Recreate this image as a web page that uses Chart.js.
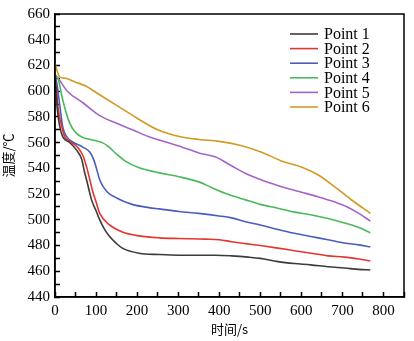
<!DOCTYPE html>
<html>
<head>
<meta charset="utf-8">
<script src="https://cdn.jsdelivr.net/npm/chart.js@4"></script>
<style>
html, body { margin: 0; padding: 0; background: #fff; }
</style>
</head>
<body>
<canvas id="chartTemp" width="414" height="341"></canvas>
<script>
const nombres = ["Point 1", "Point 2", "Point 3", "Point 4", "Point 5", "Point 6"];
const colores = ["#3d3a3a", "#e5352d", "#4a5dbf", "#4cb85c", "#a463cb", "#d29a22"];

const tiempo1 = [0, 3, 5, 12, 19, 36, 53, 65, 72, 77, 83, 89, 100, 109, 120, 133, 150, 164, 205, 254, 302, 350, 391, 430, 471, 500, 543, 583, 623, 665, 705, 740, 768];
const temp1 = [610, 600, 588, 572, 564.5, 560, 554, 547, 537, 531, 523, 515.5, 507, 500, 493, 487, 481.5, 478, 474, 473, 472.5, 472.5, 472.5, 472, 471, 470, 467.5, 466, 465, 463.5, 462.5, 461.5, 461];

const tiempo2 = [0, 4, 7, 17, 24, 41, 56, 68, 77, 85, 92, 100, 109, 133, 164, 205, 254, 302, 367, 400, 430, 464, 500, 543, 583, 623, 665, 705, 740, 768];
const temp2 = [611, 600, 588, 572, 564.5, 560, 556, 550, 541, 531, 522, 514, 505, 496, 490.5, 487.5, 486, 485.5, 485, 484.5, 483, 481.5, 480, 478, 476, 474, 472, 471, 469.5, 468];

const tiempo3 = [0, 5, 12, 19, 29, 43, 68, 85, 94, 101, 109, 126, 150, 188, 229, 254, 302, 350, 400, 430, 464, 500, 543, 583, 623, 665, 705, 740, 768];
const temp3 = [613, 605, 588, 572, 564.5, 560.5, 556.5, 552.5, 547, 540, 531, 522, 517, 512, 509.5, 508.5, 506.5, 505, 503, 501.5, 498.5, 496, 492.5, 489.5, 487, 484.5, 482, 480.5, 479];

const tiempo4 = [0, 8, 19, 36, 53, 68, 92, 115, 130, 150, 174, 205, 254, 302, 350, 382, 420, 464, 500, 543, 583, 623, 665, 705, 740, 768];
const temp4 = [613, 609, 593, 575, 567, 564, 562, 560, 557, 551, 545, 540.5, 536.5, 533.5, 529.5, 525, 520, 515.5, 512, 509, 506, 504, 501, 497.5, 494, 490];

const tiempo5 = [0, 10, 30, 68, 109, 150, 189, 229, 270, 310, 350, 390, 430, 471, 520, 560, 600, 640, 680, 712, 740, 768];
const temp5 = [613, 609, 600, 591, 581, 575, 570, 564.5, 560.5, 556.5, 552, 549, 542, 535, 529, 525, 521.5, 518, 514, 510, 505, 499];

const tiempo6 = [0, 5, 12, 25, 50, 75, 100, 150, 200, 250, 300, 350, 400, 450, 500, 550, 600, 640, 680, 720, 768];
const temp6 = [622, 616, 611, 610, 607, 604, 599, 589, 579, 570, 565, 562.5, 561, 558, 553, 546, 541, 535, 526, 516, 505];

const tiempos = [tiempo1, tiempo2, tiempo3, tiempo4, tiempo5, tiempo6];
const temps = [temp1, temp2, temp3, temp4, temp5, temp6];

const xMin = 0, xMax = 850, yMin = 440, yMax = 660;
const fuente = "'Liberation Serif', 'Times New Roman', serif";
const fuenteCJK = "'Noto Sans CJK SC', sans-serif";

const datasets = nombres.map((nombre, i) => ({
    label: nombre,
    data: tiempos[i].map((t, j) => ({ x: t, y: temps[i][j] })),
    borderColor: colores[i],
    backgroundColor: colores[i],
    borderWidth: 1.6,
    pointRadius: 0,
    cubicInterpolationMode: "monotone",
    fill: false,
}));

// marco completo y leyenda dentro del area
const marcoLeyenda = {
    id: "marcoLeyenda",
    afterDraw(chart) {
        const { ctx, chartArea } = chart;
        ctx.save();
        ctx.strokeStyle = "#000";
        ctx.lineWidth = 1.5;
        ctx.strokeRect(chartArea.left, chartArea.top, chartArea.right - chartArea.left, chartArea.bottom - chartArea.top);

        const x0 = chartArea.right - 114;
        let y = chartArea.top + 20;
        ctx.font = "16px " + fuente;
        ctx.textBaseline = "middle";
        chart.data.datasets.forEach((ds) => {
            ctx.strokeStyle = ds.borderColor;
            ctx.lineWidth = 1.6;
            ctx.beginPath();
            ctx.moveTo(x0, y);
            ctx.lineTo(x0 + 28, y);
            ctx.stroke();
            ctx.fillStyle = "#000";
            ctx.fillText(ds.label, x0 + 34, y + 1);
            y += 14.6;
        });
        ctx.restore();
    },
};

const config = {
    type: "line",
    data: { datasets: datasets },
    options: {
        responsive: false,
        animation: false,
        layout: { padding: { top: 14, right: 8, left: 0, bottom: 0 } },
        plugins: { legend: { display: false }, tooltip: { enabled: false } },
        scales: {
            x: {
                type: "linear",
                min: xMin,
                max: xMax,
                afterFit: (s) => { s.height = 44; },
                border: { display: true, color: "#000", width: 1.5 },
                grid: { drawOnChartArea: false, drawTicks: true, tickLength: -5, tickWidth: 1.5, tickColor: "#000" },
                ticks: {
                    stepSize: 50,
                    autoSkip: false,
                    maxRotation: 0,
                    padding: 10,
                    color: "#000",
                    font: { family: fuente, size: 15 },
                    callback: (v) => (v % 100 === 0 && v <= 800 ? v : ""),
                },
                title: {
                    display: true,
                    text: "时间/s",
                    color: "#000",
                    font: { family: fuenteCJK, size: 13 },
                    padding: { top: 0, bottom: 4 },
                },
            },
            y: {
                min: yMin,
                max: yMax,
                afterFit: (s) => { s.width = 55; s.paddingTop = 0; s.paddingBottom = 0; },
                border: { display: true, color: "#000", width: 1.5 },
                grid: { drawOnChartArea: false, drawTicks: true, tickLength: -5, tickWidth: 1.5, tickColor: "#000" },
                ticks: {
                    stepSize: 10,
                    autoSkip: false,
                    padding: 10,
                    color: "#000",
                    font: { family: fuente, size: 15 },
                    callback: (v) => (v % 20 === 0 ? v : ""),
                },
                title: {
                    display: true,
                    text: "温度/℃",
                    color: "#000",
                    font: { family: fuenteCJK, size: 13 },
                    padding: { top: 0, bottom: 0 },
                },
            },
        },
    },
    plugins: [marcoLeyenda],
};

const chartTemp = new Chart(document.getElementById("chartTemp"), config);
</script>
</body>
</html>
